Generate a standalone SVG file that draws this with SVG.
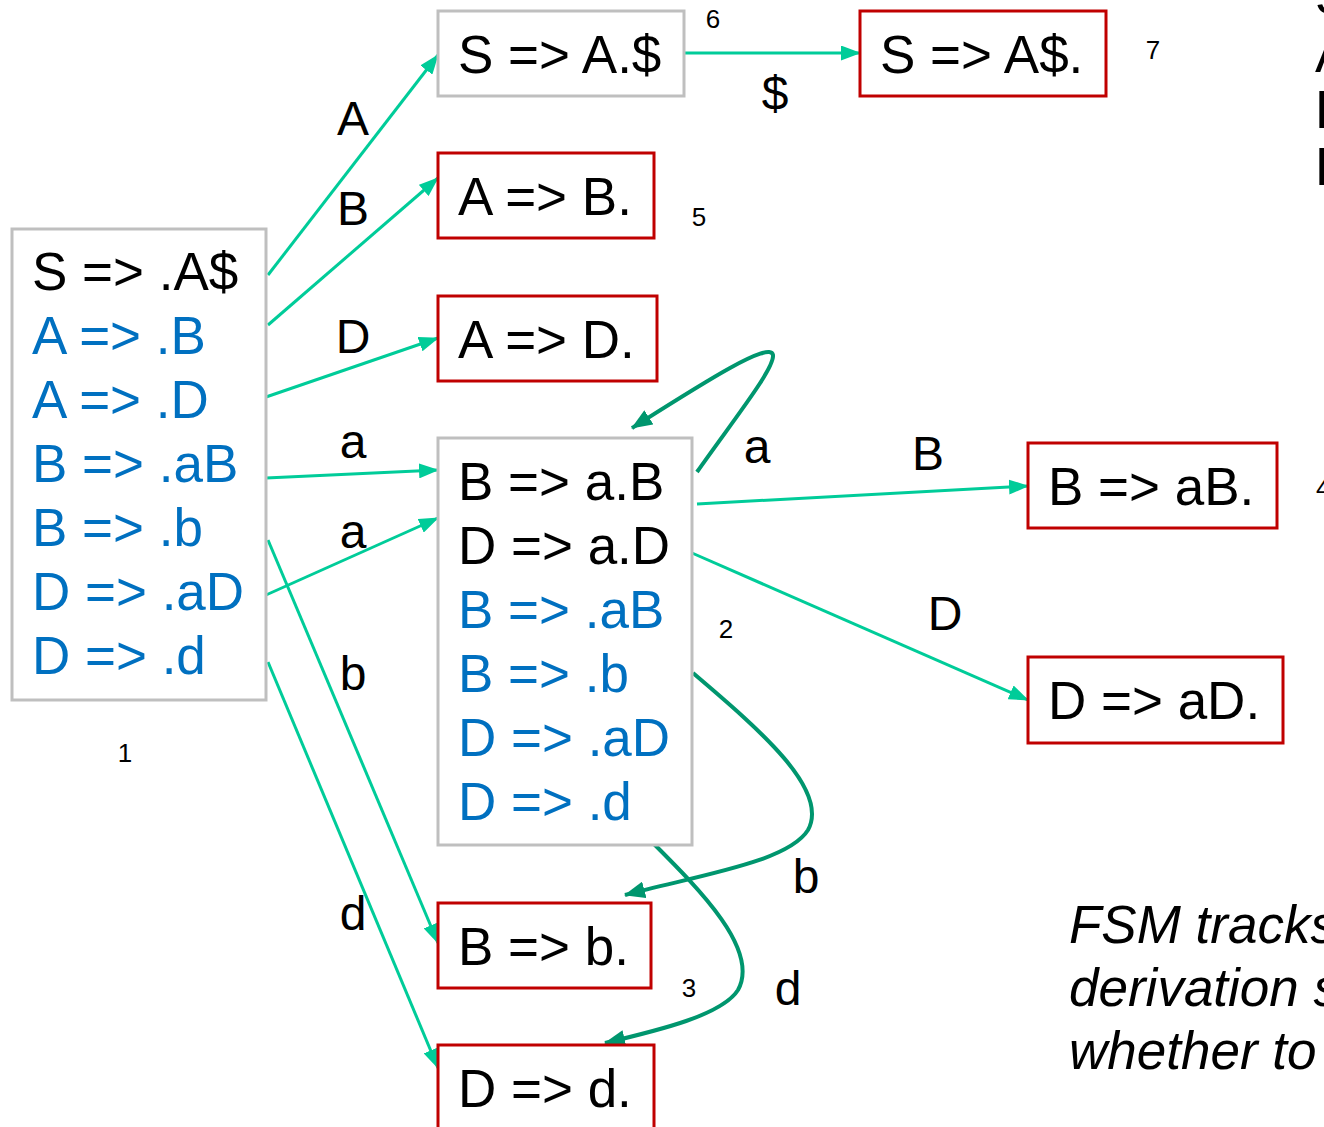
<svg xmlns="http://www.w3.org/2000/svg" width="1324" height="1127" viewBox="0 0 1324 1127">
  <style>
    .t { font-family: "Liberation Sans", Arial, sans-serif; font-size: 53px; fill: #000; }
    .b { fill: #0070c0; }
    .lbl { font-family: "Liberation Sans", Arial, sans-serif; font-size: 48px; fill: #000; }
    .num { font-family: "Liberation Sans", Arial, sans-serif; font-size: 26px; fill: #000; }
    .note { font-family: "Liberation Sans", Arial, sans-serif; font-size: 53px; font-style: italic; fill: #000; }
    .gray { fill: #fff; stroke: #bfbfbf; stroke-width: 3; }
    .red { fill: #fff; stroke: #c00000; stroke-width: 3; }
    .e { fill: none; stroke: #00cc99; stroke-width: 3; marker-end: url(#ah); }
    .c { fill: none; stroke: #00966e; stroke-width: 4; marker-end: url(#ahd); }
  </style>
  <defs>
    <marker id="ah" markerUnits="userSpaceOnUse" markerWidth="21" markerHeight="15" refX="19" refY="7.5" orient="auto">
      <path d="M0,0 L20,7.5 L0,15 Z" fill="#00cc99"/>
    </marker>
    <marker id="ahd" markerUnits="userSpaceOnUse" markerWidth="22" markerHeight="17" refX="20" refY="8.5" orient="auto">
      <path d="M0,0 L21,8.5 L0,17 Z" fill="#00966e"/>
    </marker>
  </defs>

  <rect width="1324" height="1127" fill="#fff"/>

  <!-- transitions -->
  <g id="connectors">
    <path class="e" d="M268,275 L438,55"/>
    <path class="e" d="M268,325 L438,178"/>
    <path class="e" d="M266,397 L438,338"/>
    <path class="e" d="M266,478 L438,470"/>
    <path class="e" d="M266,595 L438,518"/>
    <path class="e" d="M268,540 L438,943"/>
    <path class="e" d="M268,662 L438,1068"/>
    <path class="e" d="M684,53 L860,53"/>
    <path class="e" d="M697,504 L1028,486"/>
    <path class="e" d="M692,553 L1028,700"/>
    <path class="c" d="M697,472 C735,418 775,368 773,355 C770,340 700,385 632,428"/>
    <path class="c" d="M693,673 C760,730 830,790 808,830 C788,862 700,875 625,895"/>
    <path class="c" d="M653,843 C700,890 760,950 738,990 C722,1015 660,1030 605,1043"/>
  </g>

  <!-- edge labels -->
  <g id="edge-labels">
    <text class="lbl" x="353" y="135" text-anchor="middle">A</text>
    <text class="lbl" x="353" y="225" text-anchor="middle">B</text>
    <text class="lbl" x="353" y="353" text-anchor="middle">D</text>
    <text class="lbl" x="353" y="458" text-anchor="middle">a</text>
    <text class="lbl" x="353" y="548" text-anchor="middle">a</text>
    <text class="lbl" x="353" y="690" text-anchor="middle">b</text>
    <text class="lbl" x="353" y="930" text-anchor="middle">d</text>
    <text class="lbl" x="775" y="110" text-anchor="middle">$</text>
    <text class="lbl" x="757" y="463" text-anchor="middle">a</text>
    <text class="lbl" x="928" y="470" text-anchor="middle">B</text>
    <text class="lbl" x="945" y="630" text-anchor="middle">D</text>
    <text class="lbl" x="806" y="893" text-anchor="middle">b</text>
    <text class="lbl" x="788" y="1005" text-anchor="middle">d</text>
  </g>

  <!-- state 1 -->
  <g id="state1">
    <rect class="gray" x="12" y="229" width="254" height="471"/>
    <text class="t" x="32" y="290">S =&gt; .A$</text>
    <text class="t b" x="32" y="354">A =&gt; .B</text>
    <text class="t b" x="32" y="418">A =&gt; .D</text>
    <text class="t b" x="32" y="482">B =&gt; .aB</text>
    <text class="t b" x="32" y="546">B =&gt; .b</text>
    <text class="t b" x="32" y="610">D =&gt; .aD</text>
    <text class="t b" x="32" y="674">D =&gt; .d</text>
    <text class="num" x="125" y="762" text-anchor="middle">1</text>
  </g>

  <!-- state 2 -->
  <g id="state2">
    <rect class="gray" x="438" y="438" width="254" height="407"/>
    <text class="t" x="458" y="500">B =&gt; a.B</text>
    <text class="t" x="458" y="564">D =&gt; a.D</text>
    <text class="t b" x="458" y="628">B =&gt; .aB</text>
    <text class="t b" x="458" y="692">B =&gt; .b</text>
    <text class="t b" x="458" y="756">D =&gt; .aD</text>
    <text class="t b" x="458" y="820">D =&gt; .d</text>
    <text class="num" x="726" y="638" text-anchor="middle">2</text>
  </g>

  <!-- state 6 -->
  <g id="state6">
    <rect class="gray" x="438" y="11" width="246" height="85"/>
    <text class="t" x="458" y="73">S =&gt; A.$</text>
    <text class="num" x="713" y="28" text-anchor="middle">6</text>
  </g>

  <!-- state 7 -->
  <g id="state7">
    <rect class="red" x="860" y="11" width="246" height="85"/>
    <text class="t" x="880" y="73">S =&gt; A$.</text>
    <text class="num" x="1153" y="59" text-anchor="middle">7</text>
  </g>

  <!-- state 5 -->
  <g id="state5">
    <rect class="red" x="438" y="153" width="216" height="85"/>
    <text class="t" x="458" y="215">A =&gt; B.</text>
    <text class="num" x="699" y="226" text-anchor="middle">5</text>
  </g>

  <!-- A => D. -->
  <g id="stateAD">
    <rect class="red" x="438" y="296" width="219" height="85"/>
    <text class="t" x="458" y="358">A =&gt; D.</text>
  </g>

  <!-- state 4 -->
  <g id="state4">
    <rect class="red" x="1028" y="443" width="249" height="85"/>
    <text class="t" x="1048" y="505">B =&gt; aB.</text>
    <text class="num" x="1316" y="497">4</text>
  </g>

  <!-- D => aD. -->
  <g id="stateDaD">
    <rect class="red" x="1028" y="657" width="255" height="86"/>
    <text class="t" x="1048" y="719">D =&gt; aD.</text>
  </g>

  <!-- state 3 -->
  <g id="state3">
    <rect class="red" x="438" y="903" width="213" height="85"/>
    <text class="t" x="458" y="965">B =&gt; b.</text>
    <text class="num" x="689" y="997" text-anchor="middle">3</text>
  </g>

  <!-- D => d. -->
  <g id="stateDd">
    <rect class="red" x="438" y="1045" width="216" height="90"/>
    <text class="t" x="458" y="1107">D =&gt; d.</text>
  </g>

  <!-- grammar listing at the right margin -->
  <g id="grammar">
    <text class="t" x="1315" y="14">S</text>
    <text class="t" x="1315" y="72">A</text>
    <text class="t" x="1315" y="128">B</text>
    <text class="t" x="1315" y="185">D</text>
  </g>

  <!-- note -->
  <g id="note">
    <text class="note" x="1069" y="943">FSM tracks</text>
    <text class="note" x="1069" y="1006">derivation s</text>
    <text class="note" x="1069" y="1069">whether to</text>
  </g>
</svg>
